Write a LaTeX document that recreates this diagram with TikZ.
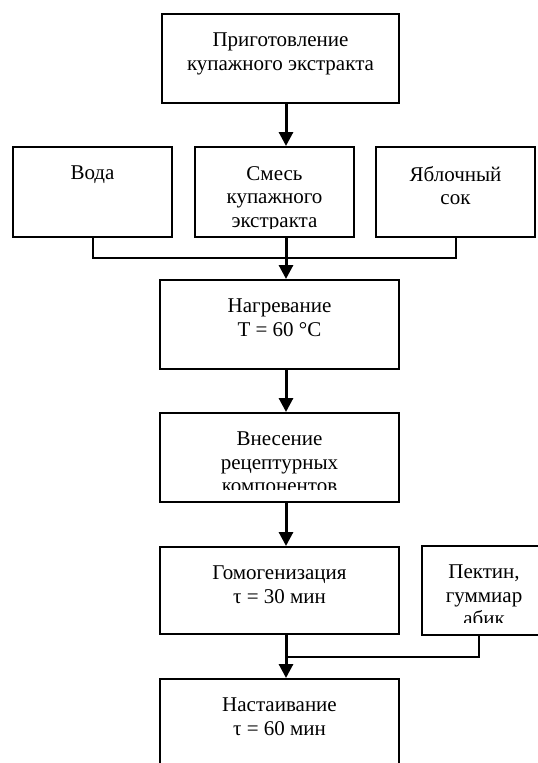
\documentclass[tikz,border=0pt]{standalone}
\usepackage{fontspec}
\setmainfont{Liberation Serif}
\usetikzlibrary{arrows.meta}
\tikzset{
  blk/.style={draw, line width=2pt, rectangle, inner sep=0pt},
  txt/.style={font=\fontsize{21}{23.5}\selectfont, align=center, inner sep=0pt, anchor=north},
  flow/.style={line width=3pt, -{Triangle[length=14pt,width=14pt]}},
  joinline/.style={line width=2pt},
}
\newcommand\mkbox[7][12]{%
  \node[blk, minimum width=#5pt-#3pt, minimum height=#6pt-#4pt] (#2) at ({(#3+#5)/2},{(#4+#6)/2}) {};
  \begin{scope}
    \clip (#3+2,#4+2) rectangle (#5-2,#6-#1);
    \node[txt] (#2-t) at ({(#3+#5)/2},#4+19) {#7};
  \end{scope}}
\begin{document}
\begin{tikzpicture}[x=1pt, y=-1pt]
  \useasboundingbox (0,0) rectangle (538,763);
  \clip (0,0) rectangle (538,763);
  \mkbox{prep}{162}{14}{399}{103}{Приготовление\\купажного экстракта}
  \mkbox{water}{13}{147}{172}{237}{Вода}
  \mkbox[9]{mix}{195}{147}{354}{237}{Смесь\\купажного\\экстракта}
  \mkbox{apple}{376}{147}{535}{237}{Яблочный\\сок}
  \mkbox{heat}{160}{280}{399}{369}{Нагревание\\T = 60 °C}
  \mkbox[12.5]{add}{160}{413}{399}{502}{Внесение\\рецептурных\\компонентов}
  \mkbox{homog}{160}{547}{399}{634}{Гомогенизация\\τ = 30 мин}
  \mkbox[12.5]{pectin}{422}{546}{546}{635}{Пектин,\\гуммиар\\абик}
  \mkbox{infuse}{160}{679}{399}{800}{Настаивание\\τ = 60 мин}
  \coordinate (ax) at (286,0);
  \coordinate (j1) at (286,258);
  \coordinate (pd) at (479,0);
  \coordinate (j2) at (286,657);
  \draw[flow] (prep.south -| ax) -- (mix.north -| ax);
  \draw[joinline] (water.south) |- (j1) -| (apple.south);
  \draw[flow] (mix.south -| ax) -- (heat.north -| ax);
  \draw[flow] (heat.south -| ax) -- (add.north -| ax);
  \draw[flow] (add.south -| ax) -- (homog.north -| ax);
  \draw[joinline] (pectin.south -| pd) |- (j2);
  \draw[flow] (homog.south -| ax) -- (infuse.north -| ax);
\end{tikzpicture}
\end{document}
